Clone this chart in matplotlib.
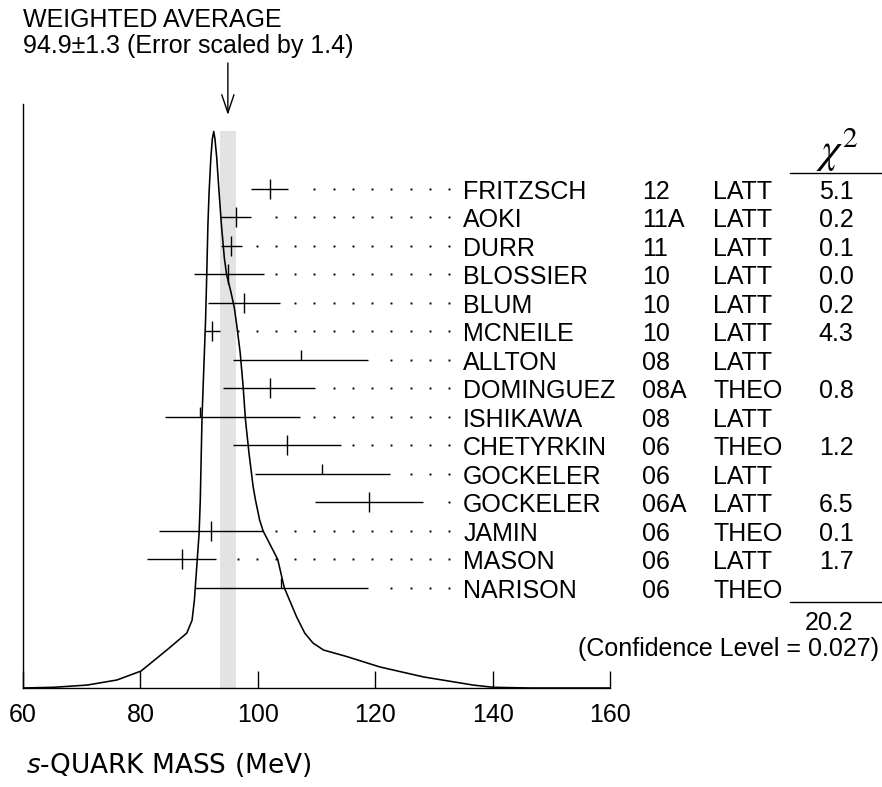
import numpy as np
import matplotlib
matplotlib.use("Agg")
import matplotlib.pyplot as plt

# measurements (MeV)
NAMES = ["FRITZSCH", "AOKI", "DURR", "BLOSSIER", "BLUM", "MCNEILE", "ALLTON",
         "DOMINGUEZ", "ISHIKAWA", "CHETYRKIN", "GOCKELER", "GOCKELER",
         "JAMIN", "MASON", "NARISON"]
YEARS = ["12", "11A", "11", "10", "10", "10", "08", "08A", "08", "06", "06",
         "06A", "06", "06", "06"]
TECHS = ["LATT", "LATT", "LATT", "LATT", "LATT", "LATT", "LATT", "THEO",
         "LATT", "THEO", "LATT", "LATT", "THEO", "LATT", "THEO"]
VALUES = [102.0, 96.2, 95.5, 95.0, 97.6, 92.2, 107.3, 102.0, 90.1, 105.0,
          111.0, 119.0, 92.0, 87.0, 104.0]
ERR_LO = [3.1, 2.6, 1.8, 5.9, 6.1, 1.2, 11.5, 7.9, 5.9, 9.2, 11.5, 9.3,
          8.8, 5.9, 14.7]
ERR_HI = [3.1, 2.7, 1.8, 6.0, 6.1, 1.3, 11.5, 7.8, 17.1, 9.1, 11.5, 9.1,
          8.8, 5.9, 14.8]
CHI2 = ["5.1", "0.2", "0.1", "0.0", "0.2", "4.3", "", "0.8", "", "1.2", "",
        "6.5", "0.1", "1.7", ""]
CHI2_TOTAL = "20.2"
CONF_LEVEL = "0.027"

AVERAGE = 94.9
AVERAGE_ERR = 1.3
SCALE_FACTOR = 1.4

# ideogram curve (MeV, relative height)
CURVE_X = [60.0, 65.2, 70.9, 76.0, 80.1, 84.5, 87.9, 88.8, 89.2, 89.6,
           90.0, 90.2, 90.5, 91.1, 91.3, 91.5, 91.7, 92.0, 92.25, 92.49,
           92.7, 93.0, 93.4, 93.8, 94.3, 94.7, 95.4, 96.0, 96.4, 97.0,
           97.5, 97.9, 98.5, 99.2, 99.6, 100.3, 100.9, 103.4, 104.5, 106.6,
           108.0, 109.4, 111.2, 115.1, 120.8, 128.2, 136.7, 140.1, 146.4,
           160.0]
CURVE_Y = [0.0, 0.0012, 0.005, 0.0137, 0.029, 0.065, 0.094, 0.116, 0.151,
           0.208, 0.265, 0.322, 0.465, 0.630, 0.707, 0.793, 0.849, 0.908,
           0.940, 0.953, 0.940, 0.908, 0.849, 0.793, 0.736, 0.707, 0.679,
           0.651, 0.622, 0.574, 0.516, 0.459, 0.402, 0.345, 0.322, 0.288,
           0.269, 0.220, 0.172, 0.122, 0.094, 0.077, 0.065, 0.054, 0.036,
           0.019, 0.005, 0.0012, 0.0, 0.0]

XTICKS = [60, 80, 100, 120, 140, 160]

FONT = "Liberation Sans"
FS = 18
LW = 1.0

plt.rcParams["font.family"] = [FONT, "DejaVu Sans"]

fig = plt.figure(figsize=(8.82, 7.87), dpi=100)
ax = fig.add_axes([0.0261, 0.1258, 0.6655, 0.7421])
ax.set_xlim(60, 160)
ax.set_ylim(0, 1)

# shaded band for the weighted average
band_top = max(CURVE_Y)
ax.bar(AVERAGE, band_top, width=2 * AVERAGE_ERR, color="#e3e3e3", zorder=0)

ax.plot(CURVE_X, CURVE_Y, color="black", lw=1.15, zorder=3)

# rows
n = len(NAMES)
row_top = 0.8545
row_step = 0.0488
rows = np.array([row_top - i * row_step for i in range(n)])
tick_h = 0.0171
txt_off = 0.0168

vals = np.array(VALUES)
lo = vals - np.array(ERR_LO)
hi = vals + np.array(ERR_HI)
ax.hlines(rows, lo, hi, color="black", lw=LW, zorder=4)
for i in range(n):
    if CHI2[i]:
        ax.vlines(vals[i], rows[i] - tick_h, rows[i] + tick_h, color="black", lw=LW, zorder=4)
    else:
        ax.vlines(vals[i], rows[i], rows[i] + tick_h, color="black", lw=LW, zorder=4)

# dotted leaders
dot_last = 132.6
dot_step = 3.278
dot_grid = dot_last - dot_step * np.arange(0, 20)
for i in range(n):
    dx = dot_grid[dot_grid > hi[i] + 1.7]
    ax.plot(dx, np.full(len(dx), rows[i]), ls="none", marker="s", ms=1.4,
            color="black", mew=0, zorder=4)

# table text
label_x, year_x, tech_x, chi_x = 135.0, 165.45, 177.6, 201.5
for i in range(n):
    y = rows[i] - txt_off
    ax.text(label_x, y, NAMES[i], fontsize=FS, va="baseline", ha="left")
    ax.text(year_x, y, YEARS[i], fontsize=FS, va="baseline", ha="left")
    ax.text(tech_x, y, TECHS[i], fontsize=FS, va="baseline", ha="left")
    if CHI2[i]:
        ax.text(chi_x, y, CHI2[i], fontsize=FS, va="baseline", ha="right")

ax.text(198.6, 0.899, r"$\chi^2$", fontsize=30, ha="center", va="baseline",
        math_fontfamily="stix")
ax.plot([190.7, 206.3], [0.8823, 0.8823], color="black", lw=LW, clip_on=False)
ax.plot([190.7, 206.3], [0.1478, 0.1478], color="black", lw=LW, clip_on=False)
ax.text(chi_x, 0.0993, CHI2_TOTAL, fontsize=FS, va="baseline", ha="right")
ax.text(205.9, 0.054, f"(Confidence Level = {CONF_LEVEL})", fontsize=FS,
        va="baseline", ha="right")

# weighted average header + arrow
ax.text(60.05, 1.1313, "WEIGHTED AVERAGE", fontsize=FS, va="baseline", ha="left")
ax.text(60.05, 1.0868, f"{AVERAGE}\u00b1{AVERAGE_ERR} (Error scaled by {SCALE_FACTOR})",
        fontsize=FS, va="baseline", ha="left")
ax.annotate("", xy=(AVERAGE, 0.9812), xytext=(AVERAGE, 1.0702),
            arrowprops=dict(arrowstyle="->,head_length=0.65,head_width=0.22",
                            color="black", lw=LW, shrinkA=0, shrinkB=0,
                            mutation_scale=20),
            annotation_clip=False)

# axes styling
for side in ["top", "right"]:
    ax.spines[side].set_visible(False)
for side in ["left", "bottom"]:
    ax.spines[side].set_linewidth(LW)
ax.set_yticks([])
ax.set_xticks(XTICKS)
ax.set_xticklabels([str(t) for t in XTICKS])
ax.tick_params(axis="x", direction="in", length=12.2, width=LW, pad=11,
               labelsize=FS)

fig.text(26.5 / 882, 14 / 787, r"$\mathit{s}$-QUARK MASS (MeV)",
         fontsize=19, family="DejaVu Sans", va="baseline", ha="left")

fig.savefig("out.png", dpi=100)
